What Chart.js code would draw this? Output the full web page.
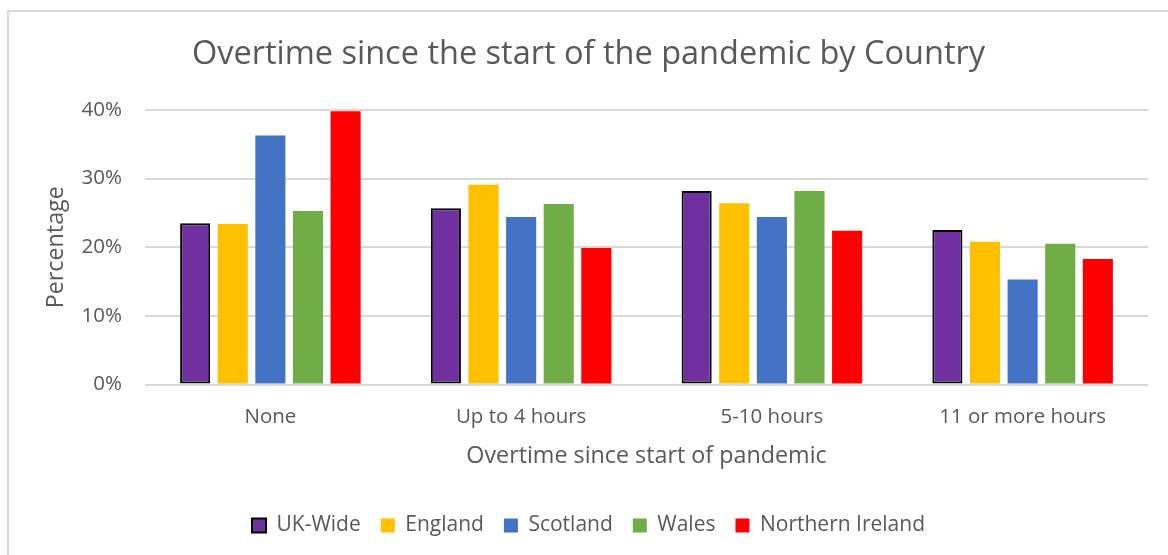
<!DOCTYPE html>
<html>
<head>
<meta charset="utf-8">
<script src="https://cdn.jsdelivr.net/npm/chart.js@4"></script>
<style>
  html, body { margin: 0; padding: 0; background: #fff; overflow: hidden; }
  body { width: 1168px; height: 555px; position: relative; }
  #frame {
    position: absolute; left: 7px; top: 10px;
    width: 1180px; height: 560px;
    border: 2px solid #d9d9d9; box-sizing: border-box;
  }
  #wrap { position: absolute; left: 0; top: 0; width: 1176px; height: 556px; }
</style>
</head>
<body>
<div id="frame"><div id="wrap"><canvas id="overtimeChart"></canvas></div></div>
<script>
// Share of staff by overtime worked since the pandemic began
const categories = ["None", "Up to 4 hours", "5-10 hours", "11 or more hours"];
const seriesNames = ["UK-Wide", "England", "Scotland", "Wales", "Northern Ireland"];
const ukWide = [23.5, 25.7, 28.2, 22.5];
const england = [23.4, 29.1, 26.4, 20.8];
const scotland = [36.3, 24.4, 24.4, 15.3];
const wales = [25.3, 26.3, 28.2, 20.5];
const northernIreland = [39.8, 19.9, 22.4, 18.3];
const yTicks = [0, 10, 20, 30, 40];

const colours = ["#7030A0", "#FFC000", "#4472C4", "#70AD47", "#FF0000"];
const seriesValues = [ukWide, england, scotland, wales, northernIreland];

const textGrey = "#595959";
const font = "'Open Sans', 'Noto Sans', sans-serif";

const datasets = seriesNames.map((name, i) => ({
    label: name,
    data: seriesValues[i],
    backgroundColor: colours[i],
    borderColor: i === 0 ? "#000000" : colours[i],
    borderWidth: i === 0 ? 2 : 0,
    borderSkipped: false,
    categoryPercentage: 0.75,
    barPercentage: 0.8
}));

const ctx = document.getElementById("overtimeChart").getContext("2d");
new Chart(ctx, {
    type: "bar",
    data: { labels: categories, datasets },
    options: {
        responsive: true,
        maintainAspectRatio: false,
        animation: false,
        layout: { padding: { left: 20, right: 37, top: 10, bottom: 22 } },
        plugins: {
            title: {
                display: true,
                text: "Overtime since the start of the pandemic by Country",
                color: textGrey,
                font: { family: font, size: 32.5, weight: "normal" },
                padding: { top: 13, bottom: 36 }
            },
            legend: {
                position: "bottom",
                labels: {
                    color: textGrey,
                    font: { family: font, size: 21 },
                    boxWidth: 14,
                    boxHeight: 14,
                    padding: 20,
                    generateLabels(chart) {
                        return chart.data.datasets.map((ds, i) => ({
                            text: ds.label,
                            fillStyle: ds.backgroundColor,
                            strokeStyle: i === 0 ? "#000" : ds.backgroundColor,
                            lineWidth: i === 0 ? 2 : 0,
                            fontColor: textGrey,
                            datasetIndex: i
                        }));
                    }
                }
            },
            tooltip: { enabled: false }
        },
        scales: {
            x: {
                grid: { display: false, drawTicks: false },
                border: { display: false },
                ticks: { color: textGrey, font: { family: font, size: 20.5 }, padding: 20 },
                title: {
                    display: true,
                    text: "Overtime since start of pandemic",
                    color: textGrey,
                    font: { family: font, size: 23.3 },
                    padding: { top: 0, bottom: 25 }
                },
                afterFit(scale) { scale.height = 110.5; }
            },
            y: {
                min: 0,
                max: 40,
                afterBuildTicks(scale) {
                    scale.ticks = yTicks.map(v => ({ value: v }));
                },
                grid: { color: "#d9d9d9", lineWidth: 2, drawTicks: false },
                border: { display: false },
                ticks: {
                    color: textGrey,
                    font: { family: font, size: 20.5 },
                    padding: 23,
                    callback: v => v + "%"
                },
                title: {
                    display: true,
                    text: "Percentage",
                    color: textGrey,
                    font: { family: font, size: 23.3 },
                    padding: { top: 13, bottom: 0 }
                },
                afterFit(scale) { scale.width = 116; }
            }
        }
    }
});
</script>
</body>
</html>
